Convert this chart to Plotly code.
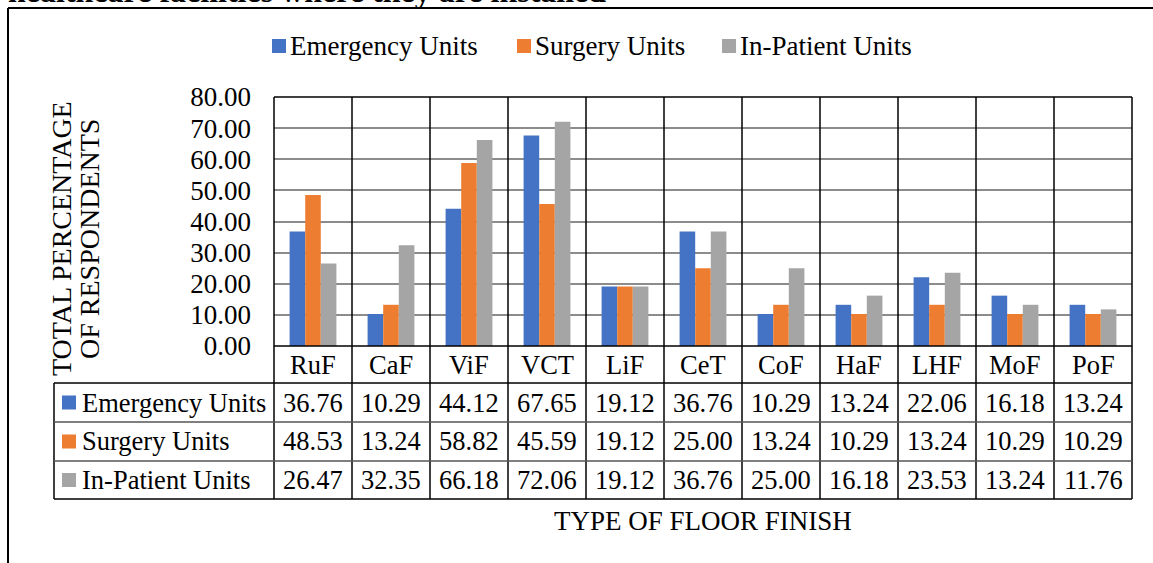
import plotly.graph_objects as go

# ---------------- data ----------------
categories = ["RuF", "CaF", "ViF", "VCT", "LiF", "CeT", "CoF", "HaF", "LHF", "MoF", "PoF"]
series_names = ["Emergency Units", "Surgery Units", "In-Patient Units"]
emergency_units = [36.76, 10.29, 44.12, 67.65, 19.12, 36.76, 10.29, 13.24, 22.06, 16.18, 13.24]
surgery_units = [48.53, 13.24, 58.82, 45.59, 19.12, 25.00, 13.24, 10.29, 13.24, 10.29, 10.29]
inpatient_units = [26.47, 32.35, 66.18, 72.06, 19.12, 36.76, 25.00, 16.18, 23.53, 13.24, 11.76]
y_tick_values = [0, 10, 20, 30, 40, 50, 60, 70, 80]
x_title = "TYPE OF FLOOR FINISH"
y_title_lines = ["TOTAL PERCENTAGE", "OF RESPONDENTS"]
top_title = "healthcare facilities where they are installed"

series_values = [emergency_units, surgery_units, inpatient_units]
colors = ["#4472C4", "#ED7D31", "#A5A5A5"]

# ---------------- layout geometry (screen pixels of the target) ----------------
W, H = 1153, 563
L, R, T, B = 274, 1132, 97, 346
FONT = "Liberation Serif, Times New Roman, serif"
FS = 27
FS_TBL = 26.5


def px(x):
    return (x - L) / (R - L)


def py(y):
    return (B - y) / (B - T)


fig = go.Figure()
for name, vals, col in zip(series_names, series_values, colors):
    fig.add_trace(go.Bar(x=categories, y=vals, name=name, marker_color=col,
                         marker_line_width=0, showlegend=False))

shapes = []
annotations = []

# outer frame (left & top)
shapes.append(dict(type="line", xref="paper", yref="paper", x0=px(8), x1=px(8),
                   y0=py(8), y1=py(H + 20), line=dict(color="black", width=2)))
shapes.append(dict(type="line", xref="paper", yref="paper", x0=px(8), x1=px(W + 20),
                   y0=py(8), y1=py(8), line=dict(color="black", width=2)))

# plot area top
shapes.append(dict(type="line", xref="paper", yref="paper", x0=0, x1=1, y0=1, y1=1,
                   line=dict(color="black", width=1.5)))

# table geometry
row_edges = [383, 422, 461, 499]
tbl_left = 54
ncat = len(categories)
for k in range(ncat + 1):
    xx = k / ncat
    shapes.append(dict(type="line", xref="paper", yref="paper", x0=xx, x1=xx,
                       y0=1, y1=py(row_edges[-1]), line=dict(color="black", width=1.5)))
shapes.append(dict(type="line", xref="paper", yref="paper", x0=px(tbl_left), x1=px(tbl_left),
                   y0=py(row_edges[0]), y1=py(row_edges[-1]), line=dict(color="black", width=1.5)))
for i, ye in enumerate(row_edges):
    col = "black" if i in (0, len(row_edges) - 1) else "#555555"
    shapes.append(dict(type="line", xref="paper", yref="paper", x0=px(tbl_left), x1=1,
                       y0=py(ye), y1=py(ye), line=dict(color=col, width=1.5)))
shapes.append(dict(type="line", xref="paper", yref="paper", x0=0, x1=1, y0=0, y1=0,
                   line=dict(color="black", width=1.5)))

# category labels (header row)
for c in categories:
    annotations.append(dict(x=c, xref="x", y=py((B + row_edges[0]) / 2), yref="paper",
                            text=c, showarrow=False, xanchor="center", yanchor="middle",
                            font=dict(family=FONT, size=FS_TBL, color="black")))

# table rows
for r, (name, vals, col) in enumerate(zip(series_names, series_values, colors)):
    yc = (row_edges[r] + row_edges[r + 1]) / 2
    shapes.append(dict(type="rect", xref="paper", yref="paper", x0=px(62), x1=px(76),
                       y0=py(yc - 7), y1=py(yc + 7), fillcolor=col, line=dict(width=0)))
    annotations.append(dict(x=px(80), xref="paper", y=py(yc), yref="paper", text=name,
                            showarrow=False, xanchor="left", yanchor="middle",
                            font=dict(family=FONT, size=FS_TBL, color="black")))
    for c, v in zip(categories, vals):
        annotations.append(dict(x=c, xref="x", y=py(yc), yref="paper", text=f"{v:.2f}",
                                showarrow=False, xanchor="center", yanchor="middle",
                                font=dict(family=FONT, size=FS_TBL, color="black")))

# legend (top)
legend_x = [272, 517, 722]
for name, col, lx in zip(series_names, colors, legend_x):
    shapes.append(dict(type="rect", xref="paper", yref="paper", x0=px(lx), x1=px(lx + 14),
                       y0=py(39), y1=py(53), fillcolor=col, line=dict(width=0)))
    annotations.append(dict(x=px(lx + 16), xref="paper", y=py(46), yref="paper", text=name,
                            showarrow=False, xanchor="left", yanchor="middle",
                            font=dict(family=FONT, size=FS, color="black")))

# axis titles
annotations.append(dict(x=0.5, xref="paper", y=py(521), yref="paper", text=x_title,
                        showarrow=False, xanchor="center", yanchor="middle",
                        font=dict(family=FONT, size=FS, color="black")))
for line, xc in zip(y_title_lines, [61, 89]):
    annotations.append(dict(x=px(xc), xref="paper", y=py(239), yref="paper", text=line,
                            showarrow=False, xanchor="center", yanchor="middle", textangle=-90,
                            font=dict(family=FONT, size=28, color="black")))

# partially visible title above frame
annotations.append(dict(x=px(6), xref="paper", y=py(-9), yref="paper", text="<b>" + top_title + "</b>",
                        showarrow=False, xanchor="left", yanchor="middle",
                        font=dict(family=FONT, size=32, color="black")))

fig.update_layout(
    width=W, height=H,
    margin=dict(l=L, r=W - R, t=T, b=H - B, pad=0),
    paper_bgcolor="white", plot_bgcolor="white",
    barmode="group", bargap=0.4, bargroupgap=0,
    shapes=shapes, annotations=annotations,
    xaxis=dict(showticklabels=False, showgrid=False, zeroline=False, showline=False,
               range=[-0.5, ncat - 0.5], fixedrange=True),
    yaxis=dict(range=[0, 80], tickvals=y_tick_values, tickformat=".2f",
               showgrid=True, gridcolor="#8c8c8c", gridwidth=1.5, zeroline=False,
               showline=False, ticks="", ticklabelstandoff=22,
               tickfont=dict(family=FONT, size=FS, color="black"), fixedrange=True),
    font=dict(family=FONT, size=FS, color="black"),
)

fig.write_html("out.html", config={"displayModeBar": False},
               post_script="document.body.style.margin='0';document.body.style.overflow='hidden';")
